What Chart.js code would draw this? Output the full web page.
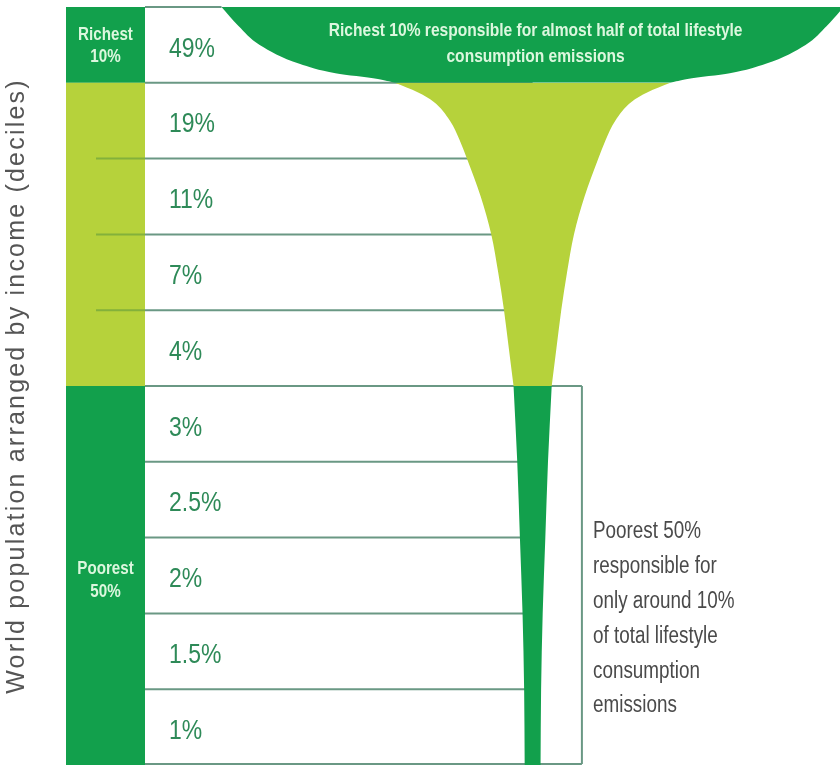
<!DOCTYPE html>
<html>
<head>
<meta charset="utf-8">
<script src="https://cdn.jsdelivr.net/npm/chart.js@4.4.1/dist/chart.umd.min.js"></script>
<style>
  html, body { margin: 0; padding: 0; background: #fff; }
  #wrap { width: 840px; height: 765px; position: relative; }
</style>
</head>
<body>
<div id="wrap"><canvas id="glassChart"></canvas></div>
<script>
// Share of lifestyle consumption emissions by income decile (richest first)
const shares = [49, 19, 11, 7, 4, 3, 2.5, 2, 1.5, 1];
const groupLabels = [['Richest', '10%'], ['Poorest', '50%']];
// glass outline: decile position -> half width (share units)
const glassLevels = [0, 0.25, 0.5, 0.75, 0.875, 0.95, 1, 1.125, 1.25, 1.5, 1.75, 2, 2.5, 3, 3.5, 4, 4.5, 5, 6, 7, 8, 9, 10];
const glassHalfWidth = [58.7, 55.5, 51.5, 44, 37.2, 29.2, 26, 21.7, 18.7, 15.6, 13.8, 12.4, 9.8, 7.8, 6.5, 5.4, 4.5, 3.6, 2.9, 2.4, 1.9, 1.6, 1.5];
const richNote = ['Richest 10% responsible for almost half of total lifestyle', 'consumption emissions'];
const poorNote = ['Poorest 50%', 'responsible for', 'only around 10%', 'of total lifestyle', 'consumption', 'emissions'];
const axisTitle = 'World population arranged by income (deciles)';

const darkGreen = '#12a04c';
const lightGreen = '#b6d23b';
const lineColor = '#6a9884';

// richest decile / next four / poorest five
const sections = [
  { from: 0, to: 1, color: darkGreen },
  { from: 1, to: 5, color: lightGreen },
  { from: 5, to: 10, color: darkGreen }
];

function edgePoints(sec, sign) {
  const pts = [];
  glassLevels.forEach((lv, i) => {
    if (lv >= sec.from && lv <= sec.to) pts.push({ x: sign * glassHalfWidth[i], y: lv });
  });
  return pts;
}

const datasets = [];
sections.forEach(sec => {
  datasets.push({
    data: edgePoints(sec, -1),
    backgroundColor: sec.color,
    borderWidth: 0,
    pointRadius: 0,
    fill: '+1',
    cubicInterpolationMode: 'monotone'
  });
  datasets.push({
    data: edgePoints(sec, 1),
    backgroundColor: sec.color,
    borderWidth: 0,
    pointRadius: 0,
    fill: false,
    cubicInterpolationMode: 'monotone'
  });
});

function drawText(ctx, str, px, py, size, weight, color, align, squeeze) {
  ctx.save();
  ctx.translate(px, py);
  ctx.scale(squeeze, 1);
  ctx.font = weight + ' ' + size + 'px "Liberation Sans", Arial, sans-serif';
  ctx.fillStyle = color;
  ctx.textAlign = align;
  ctx.textBaseline = 'middle';
  ctx.fillText(str, 0, 0);
  ctx.restore();
}

const colLeft = 66, colRight = 145, labelX = 169;
const poorBoxEdge = 9.3;

const tablePlugin = {
  id: 'decileTable',
  beforeDatasetsDraw(chart) {
    const { ctx, scales: { x, y } } = chart;
    ctx.save();
    // coloured decile column
    sections.forEach(sec => {
      ctx.fillStyle = sec.color;
      const top = y.getPixelForValue(sec.from);
      ctx.fillRect(colLeft, top, colRight - colLeft, y.getPixelForValue(sec.to) - top);
    });
    // faint splits inside the light column
    ctx.strokeStyle = 'rgba(90,150,60,0.55)';
    ctx.lineWidth = 2;
    for (let i = 2; i <= 4; i++) {
      const yy = y.getPixelForValue(i);
      ctx.beginPath(); ctx.moveTo(colLeft + 30, yy); ctx.lineTo(colRight, yy); ctx.stroke();
    }
    // row boundaries
    ctx.strokeStyle = lineColor;
    const boxRight = x.getPixelForValue(poorBoxEdge);
    for (let i = 0; i <= 10; i++) {
      let yy = y.getPixelForValue(i);
      if (i === 10) yy -= 1;
      let xEnd = x.getPixelForValue(0);
      if (i === 0) xEnd = x.getPixelForValue(-glassHalfWidth[0]);
      if (i === 5 || i === 10) xEnd = boxRight;
      ctx.beginPath(); ctx.moveTo(colRight, yy); ctx.lineTo(xEnd, yy); ctx.stroke();
    }
    ctx.beginPath();
    ctx.moveTo(boxRight, y.getPixelForValue(5));
    ctx.lineTo(boxRight, y.getPixelForValue(10) - 1);
    ctx.stroke();
    ctx.restore();
  },
  afterDatasetsDraw(chart) {
    const { ctx, scales: { x, y } } = chart;
    // share labels
    shares.forEach((s, i) => {
      drawText(ctx, s + '%', labelX, y.getPixelForValue(i + 0.5) + 4, 28, 'normal', '#2e8a58', 'left', 0.82);
    });
    // group labels in the column
    const mint = '#dcf7de';
    const cx = (colLeft + colRight) / 2;
    drawText(ctx, groupLabels[0][0], cx, 35, 18.5, 'bold', mint, 'center', 0.82);
    drawText(ctx, groupLabels[0][1], cx, 57, 18.5, 'bold', mint, 'center', 0.82);
    const poorMid = y.getPixelForValue(7.5);
    drawText(ctx, groupLabels[1][0], cx, poorMid - 7, 18.5, 'bold', mint, 'center', 0.82);
    drawText(ctx, groupLabels[1][1], cx, poorMid + 16, 18.5, 'bold', mint, 'center', 0.82);
    // note in the glass rim
    const gx = x.getPixelForValue(0) + 3;
    drawText(ctx, richNote[0], gx, 31, 19, 'bold', mint, 'center', 0.82);
    drawText(ctx, richNote[1], gx, 57, 19, 'bold', mint, 'center', 0.82);
    // note beside the stem
    poorNote.forEach((t, i) => {
      drawText(ctx, t, 593, 532 + i * 34.8, 23, 'normal', '#4a4a4a', 'left', 0.82);
    });
    // axis title
    ctx.save();
    ctx.translate(17, 386);
    ctx.rotate(-Math.PI / 2);
    ctx.font = 'normal 25px "Liberation Sans", Arial, sans-serif';
    if ('letterSpacing' in ctx) ctx.letterSpacing = '2.2px';
    ctx.fillStyle = '#555555';
    ctx.textAlign = 'center';
    ctx.textBaseline = 'middle';
    ctx.fillText(axisTitle, 0, 0);
    ctx.restore();
  }
};

new Chart(document.getElementById('glassChart'), {
  type: 'line',
  data: { datasets: datasets },
  options: {
    indexAxis: 'y',
    responsive: true,
    maintainAspectRatio: false,
    animation: false,
    events: [],
    layout: { padding: { top: 7, left: 0, right: 0, bottom: 0 } },
    scales: {
      x: { type: 'linear', min: -100.5, max: 58, display: false },
      y: { type: 'linear', min: 0, max: 10, reverse: true, display: false }
    },
    plugins: {
      legend: { display: false },
      tooltip: { enabled: false },
      filler: { propagate: false }
    }
  },
  plugins: [tablePlugin]
});
</script>
</body>
</html>
